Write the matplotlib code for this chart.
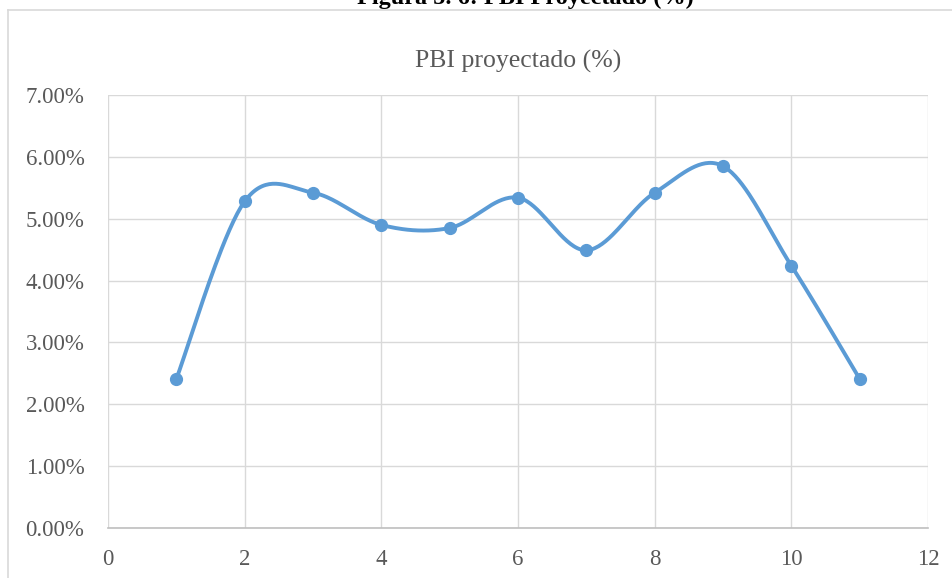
import matplotlib
matplotlib.use("Agg")
import matplotlib.pyplot as plt
import numpy as np

# data
periods = [1, 2, 3, 4, 5, 6, 7, 8, 9, 10, 11]
pbi = [2.41, 5.28, 5.42, 4.90, 4.85, 5.34, 4.49, 5.42, 5.85, 4.24, 2.41]
x_ticks = [0, 2, 4, 6, 8, 10, 12]
y_ticks = [0, 1, 2, 3, 4, 5, 6, 7]

plt.rcParams['font.family'] = ['Liberation Serif', 'DejaVu Serif']


def smooth(xs, ys, n=40):
    # excel-like smoothed line (catmull-rom through the points)
    xs = np.asarray(xs, float)
    ys = np.asarray(ys, float)
    px = np.concatenate([[xs[0]], xs, [xs[-1]]])
    py = np.concatenate([[ys[0]], ys, [ys[-1]]])
    out_x, out_y = [], []
    t = np.linspace(0, 1, n)
    for i in range(1, len(px) - 2):
        p0x, p1x, p2x, p3x = px[i - 1], px[i], px[i + 1], px[i + 2]
        p0y, p1y, p2y, p3y = py[i - 1], py[i], py[i + 1], py[i + 2]
        c1x, c1y = p1x + (p2x - p0x) / 6, p1y + (p2y - p0y) / 6
        c2x, c2y = p2x - (p3x - p1x) / 6, p2y - (p3y - p1y) / 6
        bx = (1 - t)**3 * p1x + 3 * (1 - t)**2 * t * c1x + 3 * (1 - t) * t**2 * c2x + t**3 * p2x
        by = (1 - t)**3 * p1y + 3 * (1 - t)**2 * t * c1y + 3 * (1 - t) * t**2 * c2y + t**3 * p2y
        out_x.extend(bx)
        out_y.extend(by)
    return out_x, out_y


fig = plt.figure(figsize=(9.53, 5.78), dpi=100)
W, H = 953, 578
ax = fig.add_axes([108 / W, 1 - 528 / H, 820 / W, 433 / H])

grid_c = '#D9D9D9'
text_c = '#595959'
blue = '#5B9BD5'

sx, sy = smooth(periods, pbi)
ax.plot(sx, sy, color=blue, lw=2.8, solid_capstyle='round', zorder=3)
ax.plot(periods, pbi, 'o', color=blue, markersize=8.5, zorder=4)

ax.set_xlim(0, 12)
ax.set_ylim(0, 7)
ax.set_xticks(x_ticks)
ax.set_yticks(y_ticks)
ax.set_yticklabels([f'{v:.2f}%' for v in y_ticks])
ax.grid(True, color=grid_c, lw=1.0)
ax.set_axisbelow(True)
for s in ['top', 'right', 'left']:
    ax.spines[s].set_visible(False)
ax.spines['bottom'].set_color('#BFBFBF')
ax.spines['bottom'].set_linewidth(1.2)
ax.tick_params(length=0, labelsize=16.5, colors=text_c)
ax.tick_params(axis='x', pad=15)
ax.tick_params(axis='y', pad=17)

ax.set_title('PBI proyectado (%)', fontsize=18.5, color=text_c, pad=20)

# chart frame and the caption cut off at the top
fig.add_artist(plt.Line2D([8 / W, 8 / W], [0, 1 - 10 / H], color=grid_c, lw=1.2))
fig.add_artist(plt.Line2D([8 / W, 1], [1 - 10 / H, 1 - 10 / H], color=grid_c, lw=1.2))
fig.text(525 / W, 1 - 4 / H, 'Figura 5. 6: PBI Proyectado (%)', ha='center', va='baseline',
         fontsize=17.5, fontweight='bold', color='black')

fig.savefig('out.png', dpi=100)
